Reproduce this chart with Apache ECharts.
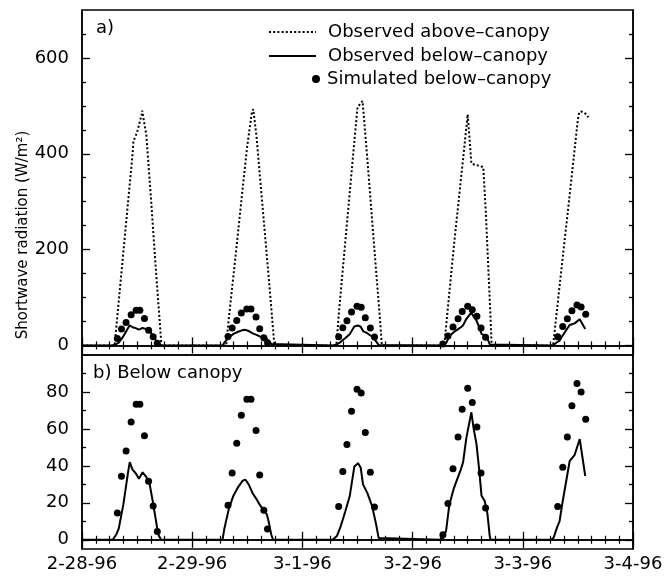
<!DOCTYPE html>
<html>
<head>
<meta charset="utf-8">
<script src="https://cdn.jsdelivr.net/npm/echarts@6/dist/echarts.min.js"></script>
<style>html,body{margin:0;padding:0;background:#fff}#c{width:666px;height:577px}</style>
</head>
<body>
<div id="c"></div>
<script>
// ---- data (hours since 2-28-96 00:00) ----
const xTickLabels = ['2-28-96', '2-29-96', '3-1-96', '3-2-96', '3-3-96', '3-4-96'];
const topYLabels = [0, 200, 400, 600];
const topYMinor = [50, 100, 150, 250, 300, 350, 450, 500, 550, 650];
const botYLabels = [0, 20, 40, 60, 80];
const botYMinor = [10, 30, 50, 70, 90];

const aboveHours = [0, 7.1, 8, 9, 10, 11, 11.2, 12, 13, 13.1, 14, 15, 16, 17, 17.3,
  31.4, 32, 33, 34, 35, 36, 37, 37.3, 38, 39, 40, 41, 41.9,
  55.4, 56, 57, 58, 59, 60, 61.1, 62, 63, 64, 65, 65.3,
  78.9, 80, 81, 82, 83, 84, 84.25, 84.8, 85.5, 86.5, 87.4, 88, 89, 89.2,
  102.6, 104, 105, 106, 107, 108, 108.3, 108.8, 109.6, 110.3];
const aboveValues = [0, 0, 92, 194, 296, 398, 426, 445, 482, 490, 440, 310, 170, 40, 0,
  0, 59, 147, 237, 329, 417, 487, 493, 437, 325, 215, 104, 0,
  0, 74, 180, 286, 393, 497, 510, 406, 284, 162, 42, 0,
  0, 110, 208, 299, 390, 482, 486, 380, 377, 375, 372, 267, 52, 0,
  0, 123, 210, 296, 384, 472, 487, 488, 484, 476];

const belowHours = [0, 6.7, 7.5, 8, 9, 10, 10.4, 11, 11.7, 12.4, 13.2, 14, 14.7, 15.4, 16, 16.6, 17.2,
  30.6, 31, 32, 33, 34, 35, 35.6, 36.3, 37.2, 38, 38.7, 39.7, 40.2, 40.5, 40.8, 41.2, 41.6,
  54.6, 55.5, 56.3, 57.3, 58.3, 59.3, 60.1, 60.7, 61.2, 62.2, 63.2, 64, 64.6, 64.8,
  78, 78.7, 79.3, 80, 81, 81.6, 82.5, 83, 83.7, 84.8, 85.3, 85.9, 86.5, 87, 87.7, 88.3, 88.8, 89,
  102, 102.7, 103.5, 104, 104.7, 105.4, 106.2, 107.3, 108.4, 109.6];
const belowValues = [0, 0, 3, 6, 19, 36, 42, 38, 36, 33, 36.5, 34, 30.5, 21, 12, 3, 0,
  0, 6, 17, 24, 28.5, 32, 32.5, 30, 25, 22, 19, 15.4, 14, 11.5, 8, 3, 0,
  0, 2, 7, 15, 23.5, 39.5, 41.5, 39, 30, 25, 18, 9, 1, 0,
  0, 1, 5, 19, 28, 32, 38, 42, 55, 69, 60, 52, 38, 24, 21, 14, 2, 0,
  0, 1, 7, 10, 21, 31, 42.5, 46, 54.5, 34.5];

const simHours = [7.7, 8.6, 9.6, 10.7, 11.8, 12.6, 13.6, 14.5, 15.5, 16.4,
  31.8, 32.7, 33.7, 34.7, 35.9, 36.8, 37.9, 38.7, 39.6, 40.4,
  55.9, 56.8, 57.7, 58.7, 59.9, 60.8, 61.7, 62.8, 63.7,
  78.6, 79.7, 80.8, 81.9, 82.8, 84.0, 85.0, 86.0, 86.9, 87.9,
  103.6, 104.7, 105.7, 106.7, 107.8, 108.7, 109.7];
const simValues = [14.5, 34.4, 48, 63.8, 73.4, 73.4, 56.3, 31.7, 18.3, 4.5,
  18.7, 36.2, 52.2, 67.4, 76, 76, 59.2, 35, 16, 5.8,
  18, 37, 51.6, 69.5, 81.5, 79.5, 58, 36.6, 17.7,
  2.7, 19.6, 38.4, 55.6, 70.7, 82, 74.3, 61, 36.2, 17.2,
  18, 39.3, 55.6, 72.5, 84.6, 80, 65.2];

const NAME_ABOVE = 'Observed above\u2013canopy';
const NAME_BELOW = 'Observed below\u2013canopy';
const NAME_SIM = 'Simulated below\u2013canopy';

// ---- build ----
const pairs = (xs, ys) => xs.map((x, i) => [x, ys[i]]);
const FONT = 'DejaVu Sans';
const BLACK = '#000';

function xAx(grid, pos, labels) {
  return {
    type: 'value', gridIndex: grid, position: pos, min: 0, max: 120, interval: 24,
    axisLine: { show: true, lineStyle: { color: BLACK, width: 1.5 } },
    axisTick: { show: true, inside: true, length: 8, lineStyle: { color: BLACK, width: 1.3 } },
    minorTick: { show: true, splitNumber: 8, length: 4, lineStyle: { color: BLACK, width: 1.2 } },
    splitLine: { show: false }, minorSplitLine: { show: false },
    axisLabel: labels ? {
      show: true, margin: 6, color: BLACK, fontFamily: FONT, fontSize: 18,
      formatter: v => xTickLabels[Math.round(v / 24)]
    } : { show: false }
  };
}
function yAx(grid, pos, min, max, majors, minors, labels, isMinor) {
  return {
    type: 'value', gridIndex: grid, position: pos, min: min, max: max,
    axisLine: { show: !isMinor, lineStyle: { color: BLACK, width: 1.5 } },
    axisTick: { show: true, inside: true, length: isMinor ? 4 : 8,
      customValues: isMinor ? minors : majors, lineStyle: { color: BLACK, width: 1.3 } },
    splitLine: { show: false },
    axisLabel: (labels && !isMinor) ? {
      show: true, margin: 13, color: BLACK, fontFamily: FONT, fontSize: 18, customValues: majors
    } : { show: false, customValues: isMinor ? minors : majors }
  };
}

const hiddenSymbol = { opacity: 0 };

const option = {
  animation: false,
  backgroundColor: '#fff',
  grid: [
    { left: 82, top: 10, width: 551, height: 345, show: true, borderColor: BLACK, borderWidth: 1.5, backgroundColor: 'transparent' },
    { left: 82, top: 355, width: 551, height: 194, show: true, borderColor: BLACK, borderWidth: 1.5, backgroundColor: 'transparent' }
  ],
  xAxis: [
    xAx(0, 'bottom', false), xAx(0, 'top', false),
    xAx(1, 'bottom', true), xAx(1, 'top', false)
  ],
  yAxis: [
    yAx(0, 'left', -20, 700, topYLabels, topYMinor, true, false),
    yAx(0, 'left', -20, 700, topYLabels, topYMinor, false, true),
    yAx(0, 'right', -20, 700, topYLabels, topYMinor, false, false),
    yAx(0, 'right', -20, 700, topYLabels, topYMinor, false, true),
    yAx(1, 'left', -5, 100, botYLabels, botYMinor, true, false),
    yAx(1, 'left', -5, 100, botYLabels, botYMinor, false, true),
    yAx(1, 'right', -5, 100, botYLabels, botYMinor, false, false),
    yAx(1, 'right', -5, 100, botYLabels, botYMinor, false, true)
  ],
  legend: [
    {
      data: [
        { name: NAME_ABOVE, itemStyle: hiddenSymbol },
        { name: NAME_BELOW, itemStyle: hiddenSymbol }
      ],
      orient: 'vertical', left: 268, top: 23, padding: 0,
      itemWidth: 47, itemHeight: 14, itemGap: 6, selectedMode: false,
      textStyle: { color: BLACK, fontFamily: FONT, fontSize: 18, padding: [0, 0, 0, 7] }
    },
    {
      data: [NAME_SIM], orient: 'vertical', left: 312, top: 70, padding: 0,
      itemWidth: 8, itemHeight: 14, selectedMode: false,
      textStyle: { color: BLACK, fontFamily: FONT, fontSize: 18, padding: [0, 0, 0, 2] }
    }
  ],
  graphic: [
    { type: 'text', left: 96, top: 19, style: { text: 'a)', font: '18px "DejaVu Sans"', fill: BLACK } },
    { type: 'text', left: 93, top: 364, style: { text: 'b) Below canopy', font: '18px "DejaVu Sans"', fill: BLACK } },
    { type: 'text', x: 23, y: 235, rotation: Math.PI / 2,
      style: { text: 'Shortwave radiation (W/m\u00B2)', font: '15px "DejaVu Sans"', fill: BLACK,
        align: 'center', verticalAlign: 'middle' } }
  ],
  series: [
    { name: NAME_ABOVE, type: 'line', xAxisIndex: 0, yAxisIndex: 0, data: pairs(aboveHours, aboveValues),
      symbol: 'none', lineStyle: { color: BLACK, width: 2, type: [2, 2.2] }, itemStyle: { color: BLACK } },
    { name: NAME_BELOW, type: 'line', xAxisIndex: 0, yAxisIndex: 0, data: pairs(belowHours, belowValues),
      symbol: 'none', lineStyle: { color: BLACK, width: 2 }, itemStyle: { color: BLACK } },
    { name: NAME_SIM, type: 'scatter', xAxisIndex: 0, yAxisIndex: 0, data: pairs(simHours, simValues),
      symbol: 'circle', symbolSize: 7, itemStyle: { color: BLACK, opacity: 1 } },
    { name: NAME_BELOW, type: 'line', xAxisIndex: 2, yAxisIndex: 4, data: pairs(belowHours, belowValues),
      symbol: 'none', lineStyle: { color: BLACK, width: 2 }, itemStyle: { color: BLACK } },
    { name: NAME_SIM, type: 'scatter', xAxisIndex: 2, yAxisIndex: 4, data: pairs(simHours, simValues),
      symbol: 'circle', symbolSize: 7, itemStyle: { color: BLACK, opacity: 1 } }
  ]
};

const chart = echarts.init(document.getElementById('c'), null, { renderer: 'canvas' });
chart.setOption(option);
</script>
</body>
</html>
